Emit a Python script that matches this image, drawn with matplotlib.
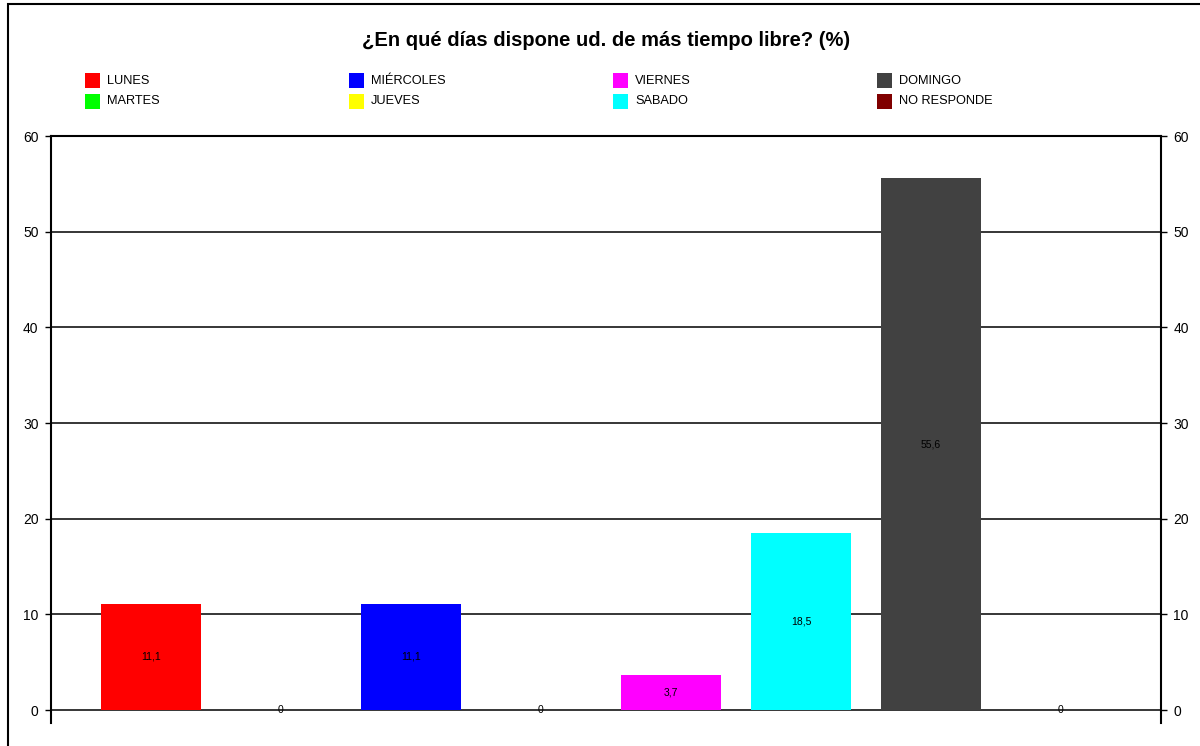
import matplotlib.pyplot as plt
from matplotlib.patches import Rectangle
from matplotlib.lines import Line2D

plt.rcParams['font.family'] = ['Liberation Sans', 'DejaVu Sans']

# respuestas por dia (%)
dias = ['LUNES', 'MARTES', 'MIÉRCOLES', 'JUEVES', 'VIERNES', 'SABADO', 'DOMINGO', 'NO RESPONDE']
porcentajes = [11.1, 0, 11.1, 0, 3.7, 18.5, 55.6, 0]
colores = ['#FF0000', '#00FF00', '#0000FF', '#FFFF00', '#FF00FF', '#00FFFF', '#414141', '#800000']
yticks = [0, 10, 20, 30, 40, 50, 60]

W, H = 1200, 746
fig = plt.figure(figsize=(W / 100, H / 100), dpi=100)

def fx(px):
    return px / W

def fy(py):
    return 1 - py / H

# marco exterior (solo lados izquierdo y superior visibles)
fig.add_artist(Line2D([fx(8), fx(8), 1.0], [0.0, fy(4), fy(4)], color='black',
                      lw=1.5, solid_joinstyle='miter'))

ax = fig.add_axes([fx(51), fy(723), fx(1161) - fx(51), fy(136) - fy(723)])

x = list(range(len(dias)))
barras = ax.bar(x, porcentajes, width=100 / 130, color=colores, zorder=3)

etiquetas = ['0' if v == 0 else f'{v:.1f}'.replace('.', ',') for v in porcentajes]
ax.bar_label(barras, labels=etiquetas, label_type='center', fontsize=7.5, zorder=4)

ax.set_xlim(-0.5 - 35 / 130, len(dias) - 0.5 + 35 / 130)
ax.set_ylim(-13 / 9.567, 60)
ax.set_xticks([])
ax.set_yticks(yticks)
for y in yticks:
    ax.axhline(y, color='black', lw=1.1, zorder=2)

ax.spines['bottom'].set_visible(False)
for s in ['left', 'right', 'top']:
    ax.spines[s].set_linewidth(1.5)
ax.tick_params(axis='y', direction='out', length=4, width=1, labelsize=10,
               left=True, right=True, labelleft=True, labelright=True, pad=5)

fig.text(fx(606), fy(40), '¿En qué días dispone ud. de más tiempo libre? (%)',
         ha='center', va='center', fontsize=14.5, fontweight='bold')

# leyenda en 4 columnas x 2 filas
for i, (dia, c) in enumerate(zip(dias, colores)):
    col, fila = i // 2, i % 2
    px = 85 + col * 264
    py = 73 + fila * 21
    fig.add_artist(Rectangle((fx(px), fy(py + 15)), fx(15), 15 / H,
                             facecolor=c, edgecolor='none'))
    fig.text(fx(px + 22), fy(py + 7.5), dia, ha='left', va='center', fontsize=9.2)

fig.savefig('out.png', dpi=100)
